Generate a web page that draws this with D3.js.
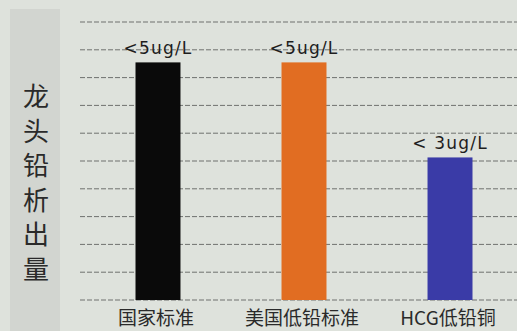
<!DOCTYPE html>
<html>
<head>
<meta charset="utf-8">
<script src="https://cdn.jsdelivr.net/npm/d3@7/dist/d3.min.js"></script>
<style>
  html, body { margin: 0; padding: 0; background: #dee2dc; }
  svg { display: block; }
</style>
</head>
<body>
<script>
// data
const categories = ['国家标准', '美国低铅标准', 'HCG低铅铜'];
const values = [5, 5, 3];
const valueLabels = ['<5ug/L', '<5ug/L', '< 3ug/L'];
const barColors = ['#0a0a0a', '#e16d22', '#3a3ba7'];
const gridLines = [0, 1, 2, 3, 4, 5, 6, 7, 8, 9, 10];
const axisTitle = '龙头铅析出量';

const svgWidth = 517;
const svgHeight = 331;
const margin = { left: 80, right: 0, top: 22, bottom: 31 };

const svg = d3.select('body')
  .append('svg')
  .attr('width', svgWidth)
  .attr('height', svgHeight)
  .style('font-family', '"Noto Sans CJK SC", "Noto Sans", sans-serif');

svg.append('rect')
  .attr('width', svgWidth)
  .attr('height', svgHeight)
  .attr('fill', '#dee2dc');

// grey panel holding the vertical title
svg.append('rect')
  .attr('x', 10)
  .attr('y', 9)
  .attr('width', 50)
  .attr('height', 330)
  .attr('fill', '#d2d5d0');

// vertical title, one text written top to bottom
svg.append('text')
  .attr('x', 36)
  .attr('y', 187)
  .attr('text-anchor', 'middle')
  .attr('font-size', 26)
  .attr('letter-spacing', 8.6)
  .attr('fill', '#2a2a2a')
  .style('writing-mode', 'vertical-rl')
  .text(axisTitle);

const baseY = svgHeight - margin.bottom;

// gridlines
const gridY = d3.scaleLinear().domain([0, 10]).range([baseY, margin.top]);
svg.append('g')
  .selectAll('line')
  .data(gridLines)
  .join('line')
  .attr('x1', margin.left)
  .attr('x2', svgWidth)
  .attr('y1', (d) => gridY(d))
  .attr('y2', (d) => gridY(d))
  .attr('stroke', '#4a4d4a')
  .attr('stroke-width', 1)
  .attr('stroke-dasharray', '5,2')
  .attr('opacity', 0.75);

// bars
const x = d3.scaleBand()
  .domain(categories)
  .range([62.5, 545.5])
  .paddingInner(0.692)
  .paddingOuter(0.5);

const y = d3.scaleLinear()
  .domain([0, 5.85])
  .range([baseY, margin.top]);

svg.append('g')
  .selectAll('rect')
  .data(categories)
  .join('rect')
  .attr('x', (d) => x(d))
  .attr('y', (d, i) => y(values[i]))
  .attr('width', x.bandwidth())
  .attr('height', (d, i) => baseY - y(values[i]))
  .attr('fill', (d, i) => barColors[i]);

// value labels
svg.append('g')
  .selectAll('text')
  .data(categories)
  .join('text')
  .attr('x', (d) => x(d) + x.bandwidth() / 2)
  .attr('y', (d, i) => y(values[i]) - 8)
  .attr('text-anchor', 'middle')
  .attr('font-size', 17)
  .attr('letter-spacing', 1.2)
  .attr('fill', '#1e1e1e')
  .attr('font-family', '"DejaVu Sans", "Noto Sans", sans-serif')
  .text((d, i) => valueLabels[i]);

// category labels
svg.append('g')
  .selectAll('text')
  .data(categories)
  .join('text')
  .attr('x', (d) => x(d) + x.bandwidth() / 2 - 2)
  .attr('y', svgHeight - 6)
  .attr('text-anchor', 'middle')
  .attr('font-size', 19)
  .attr('fill', '#2a2a2a')
  .text((d) => d);
</script>
</body>
</html>
